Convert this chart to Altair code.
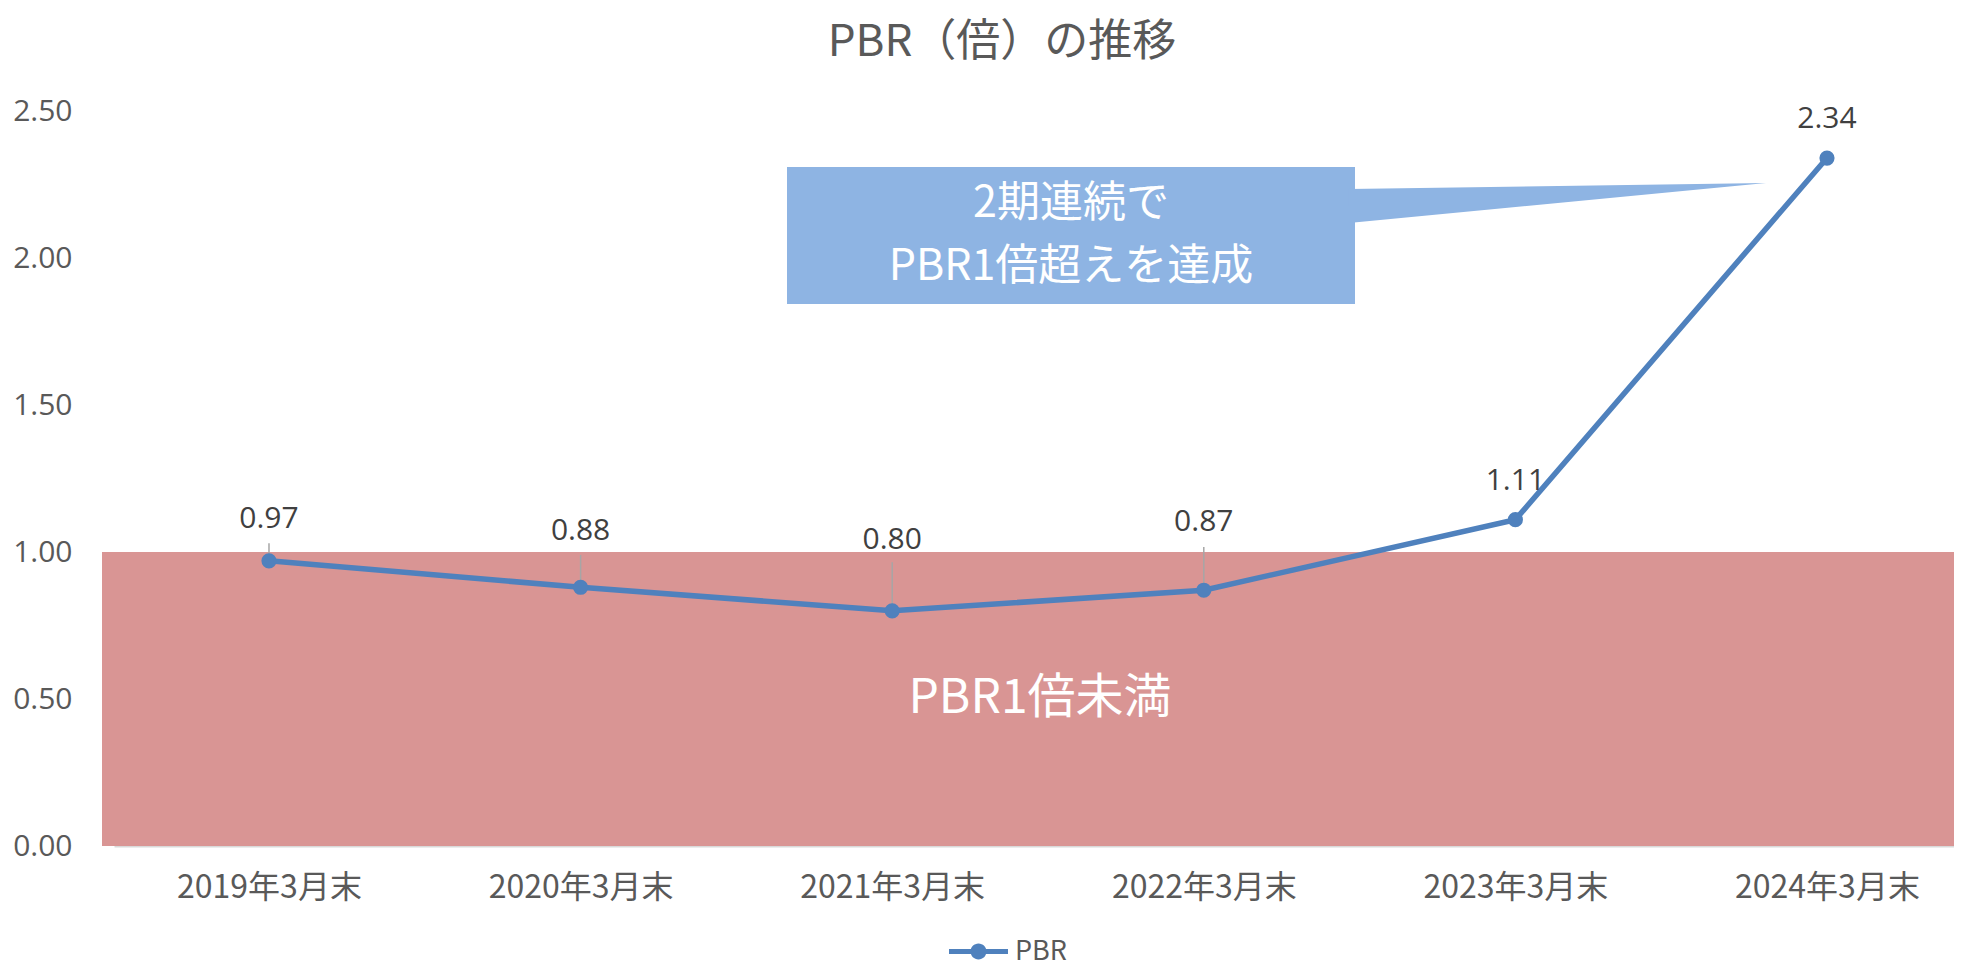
import altair as alt
import pandas as pd

# ---- data ----
categories = ["2019年3月末", "2020年3月末", "2021年3月末", "2022年3月末", "2023年3月末", "2024年3月末"]
pbr = [0.97, 0.88, 0.80, 0.87, 1.11, 2.34]
label_y = [1.112, 1.07, 1.04, 1.102, 1.241, 2.473]   # where each data label sits (data units)
leader_top = [1.03, 0.99, 0.965, 1.017, None, None]  # leader lines for dragged labels
y_ticks = [0.0, 0.5, 1.0, 1.5, 2.0, 2.5]
band_lo, band_hi = [0.0], [1.0]
band_text = "PBR1倍未満"
callout_line1 = "2期連続で"
callout_line2 = "PBR1倍超えを達成"
series_name = "PBR"
title_text = "PBR（倍）の推移"

W, H = 1840, 735
JP = "Noto Sans CJK JP"
NUM = "Open Sans"
BLUE = "#4f81bd"
GREY = "#595959"

df = pd.DataFrame({"cat": categories, "pbr": pbr, "ly": label_y,
                   "series": [series_name] * len(categories)})
lead = pd.DataFrame({"cat": categories, "pbr": pbr, "top": leader_top}).dropna()
band = pd.DataFrame({"lo": band_lo, "hi": band_hi, "t": [band_text]})
one = pd.DataFrame({"t": [0]})

xscale = alt.Scale(type="point", padding=0.4525, align=0.5496)
yscale = alt.Scale(domain=[0, 2.5], nice=False)

x_enc = alt.X("cat:N", sort=categories, scale=xscale,
              axis=alt.Axis(labelAngle=0, ticks=False, grid=False, title=None,
                            domainColor="#d9d9d9", domainWidth=2, labelPadding=26,
                            labelLimit=0, labelFont=JP, labelFontSize=32,
                            labelColor=GREY))

band_rect = alt.Chart(band).mark_rect(color="#d99594").encode(
    x=alt.value(-12), x2=alt.value(W + 10),
    y=alt.Y("lo:Q", scale=yscale,
            axis=alt.Axis(values=y_ticks, format=".2f", ticks=False, domain=False,
                          grid=False, title=None, labelPadding=42,
                          labelFont=NUM, labelFontSize=30, labelColor=GREY)),
    y2="hi:Q",
)
band_label = alt.Chart(band).mark_text(font=JP, fontSize=48, color="white",
                                       baseline="middle", align="center").encode(
    x=alt.value(926), y=alt.datum(0.5, scale=yscale), text="t:N")

leaders = alt.Chart(lead).mark_rule(color="#a6a6a6", strokeWidth=1.5).encode(
    x=x_enc, y=alt.Y("top:Q", scale=yscale), y2="pbr:Q")

line = alt.Chart(df).mark_line(color=BLUE, strokeWidth=5.5).encode(
    x=x_enc, y=alt.Y("pbr:Q", scale=yscale))

sym = ("M-1,-0.085 L1,-0.085 L1,0.085 L-1,0.085 Z "
       "M0.27,0 A0.27,0.27 0 1,1 -0.27,0 A0.27,0.27 0 1,1 0.27,0 Z")
points = alt.Chart(df).mark_point(filled=True, size=230, opacity=1).encode(
    x=x_enc, y=alt.Y("pbr:Q", scale=yscale),
    color=alt.Color("series:N", scale=alt.Scale(range=[BLUE]),
                    legend=alt.Legend(orient="none", legendX=835, legendY=811,
                                      title=None, symbolType=sym, symbolSize=3481,
                                      symbolStrokeWidth=0, labelFont=JP,
                                      labelFontSize=27, labelColor=GREY,
                                      labelOffset=7, padding=0)))

labels = alt.Chart(df).mark_text(font=NUM, fontSize=30, color="#404040",
                                 baseline="middle", align="center").encode(
    x=x_enc, y=alt.Y("ly:Q", scale=yscale), text=alt.Text("pbr:Q", format=".2f"))

box = alt.Chart(one).mark_rect(color="#8eb4e3").encode(
    x=alt.value(673), x2=alt.value(1241), y=alt.value(56), y2=alt.value(193))
tri_path = "M-1.03,-0.068 L1,-0.097 L-1.03,0.097 Z"
pointer = alt.Chart(one).mark_point(shape=tri_path, filled=True, size=411 * 411,
                                    color="#8eb4e3", opacity=1, strokeWidth=0).encode(
    x=alt.value(1446.5), y=alt.value(92))
box_text1 = alt.Chart(one).mark_text(text=callout_line1, font=JP, fontSize=43,
                                     color="white", baseline="middle",
                                     align="center").encode(
    x=alt.value(957), y=alt.value(93))
box_text2 = alt.Chart(one).mark_text(text=callout_line2, font=JP, fontSize=43,
                                     color="white", baseline="middle",
                                     align="center").encode(
    x=alt.value(957), y=alt.value(156))

chart = alt.layer(band_rect, band_label, leaders, line, points, labels,
                  box, pointer, box_text1, box_text2).properties(
    width=W, height=H,
    title=alt.Title(title_text, anchor="middle", frame="group", dx=-32, offset=31,
                    fontSize=44, color=GREY, font=JP, fontWeight="normal"),
    autosize=alt.AutoSizeParams(type="none"),
    padding={"left": 106, "top": 103, "right": 0, "bottom": 117},
    background="white",
).configure_view(stroke=None)

chart.save("out.html", embed_options={"renderer": "svg", "actions": False})
